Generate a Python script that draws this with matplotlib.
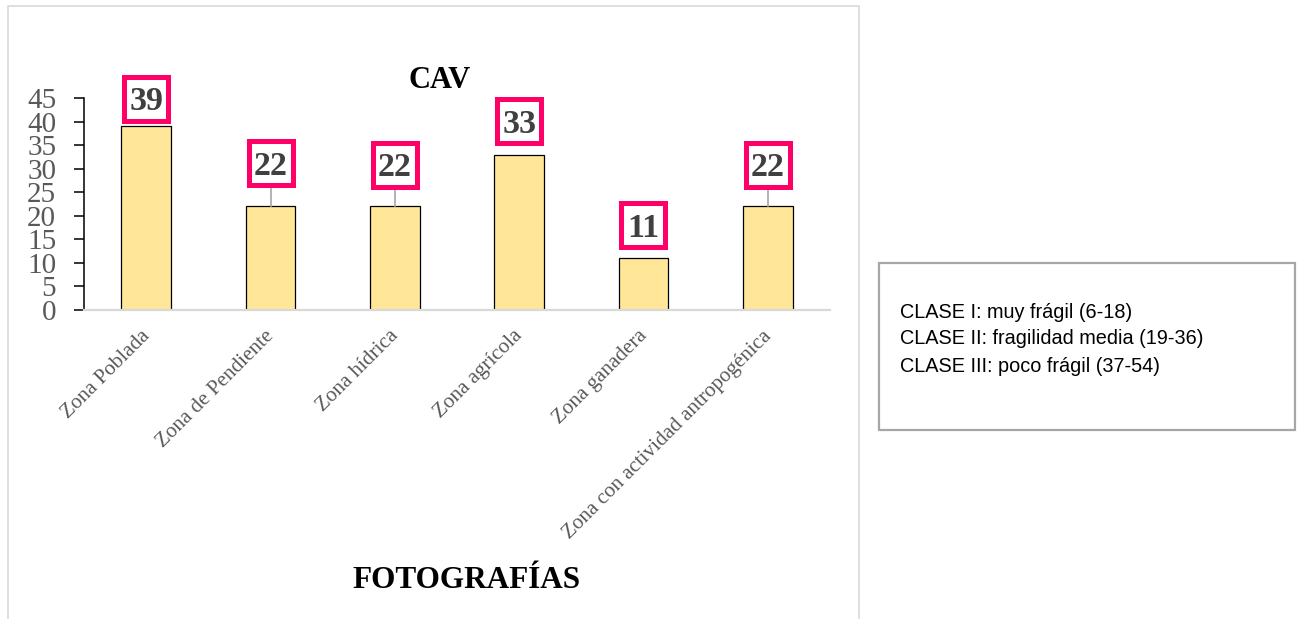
import matplotlib.pyplot as plt
from matplotlib.patches import Rectangle
from matplotlib.transforms import ScaledTranslation

## Datos del grafico ##
categories = [
    "Zona Poblada",
    "Zona de Pendiente",
    "Zona hídrica",
    "Zona agrícola",
    "Zona ganadera",
    "Zona con actividad antropogénica",
]
values = [39, 22, 22, 33, 11, 22]
label_offsets = [5.8, 9.2, 8.8, 7.1, 7.0, 8.8]
y_ticks = [0, 5, 10, 15, 20, 25, 30, 35, 40, 45]
class_lines = [
    "CLASE I: muy frágil (6-18)",
    "CLASE II: fragilidad media (19-36)",
    "CLASE III: poco frágil (37-54)",
]

SERIF = "Liberation Serif"
SANS = "Liberation Sans"

W, H = 1302, 619
fig = plt.figure(figsize=(W / 100, H / 100), dpi=100)

# marco del grafico
fig.patches.append(Rectangle((8 / W, 1 - 700 / H), 851 / W, 694 / H,
                             transform=fig.transFigure, fill=False,
                             edgecolor="#D9D9D9", linewidth=1.2))

ax = fig.add_axes([84 / W, 1 - 310 / H, 746 / W, 212 / H])
x = list(range(len(categories)))
ax.bar(x, values, width=0.4, color="#FFE699", edgecolor="black",
       linewidth=0.9, zorder=2)

ax.set_xlim(-0.5, len(categories) - 0.5)
ax.set_ylim(0, 45)
ax.set_yticks(y_ticks)
ax.set_yticklabels([str(t) for t in y_ticks], fontfamily=SERIF,
                   fontsize=21, color="#595959")
ax.set_xticks(x)
ax.set_xticklabels(categories, rotation=45, ha="right",
                   rotation_mode="anchor", fontfamily=SERIF,
                   fontsize=15.2, color="#595959")
ax.tick_params(axis="y", direction="out", length=7, width=1.1,
               color="black", pad=13)
ax.tick_params(axis="x", length=0, pad=12)

# correr las etiquetas del eje x un poco a la izquierda
shift = ScaledTranslation(-6 / 100, 0, fig.dpi_scale_trans)
for lbl in ax.get_xticklabels():
    lbl.set_transform(lbl.get_transform() + shift)

for side in ["top", "right"]:
    ax.spines[side].set_visible(False)
ax.spines["left"].set_color("black")
ax.spines["left"].set_linewidth(1.1)
ax.spines["bottom"].set_color("#D9D9D9")
ax.spines["bottom"].set_linewidth(1.6)

# etiquetas de datos con recuadro
for i, (v, off) in enumerate(zip(values, label_offsets)):
    if off > 8:
        ax.plot([i, i], [v, v + off], color="#A6A6A6", linewidth=1.2,
                zorder=3, clip_on=False)
    ax.plot(i, v + off, marker="s", markersize=32, markerfacecolor="white",
            markeredgecolor="#FF0066", markeredgewidth=3.6, zorder=4,
            clip_on=False)
    ax.annotate(str(v), xy=(i, v + off), xytext=(0, -8.3),
                textcoords="offset points", ha="center", va="baseline",
                fontfamily=SERIF, fontsize=24.5, fontweight="bold",
                color="#404040", annotation_clip=False, zorder=5)

fig.text(440 / W, 1 - 81 / H, "CAV", ha="center", va="center",
         fontfamily=SERIF, fontsize=22, fontweight="bold", color="black")
fig.text(467 / W, 1 - 581 / H, "FOTOGRAFÍAS", ha="center", va="center",
         fontfamily=SERIF, fontsize=22.5, fontweight="bold", color="black")

# cuadro de clases
fig.patches.append(Rectangle((879 / W, 1 - 430 / H), 416 / W, 167 / H,
                             transform=fig.transFigure, fill=False,
                             edgecolor="#A6A6A6", linewidth=1.6))
for k, line in enumerate(class_lines):
    fig.text(900 / W, 1 - (312 + 27 * k) / H, line, ha="left",
             va="center", fontfamily=SANS, fontsize=14.3, color="black")

fig.savefig("out.png", dpi=100, facecolor="white")
